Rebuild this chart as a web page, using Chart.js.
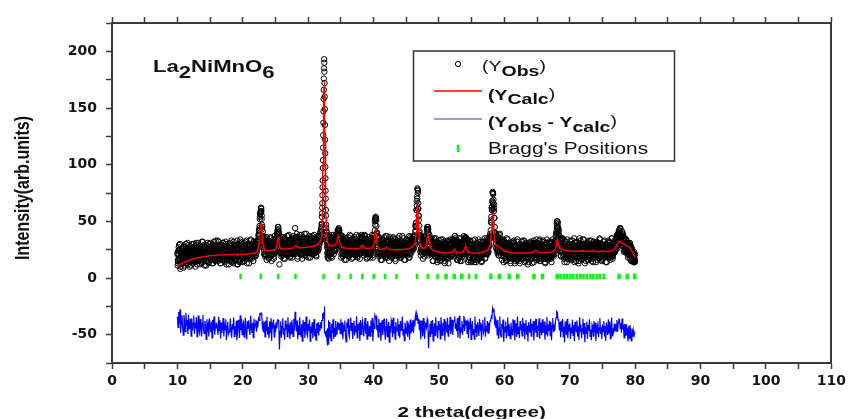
<!DOCTYPE html>
<html>
<head>
<meta charset="utf-8">
<title>La2NiMnO6 XRD refinement</title>
<script src="https://cdn.jsdelivr.net/npm/chart.js@4.4.1/dist/chart.umd.min.js"></script>
<style>
  html, body { margin: 0; padding: 0; background: #fff; overflow: hidden; }
  canvas { display: block; }
</style>
</head>
<body>
<canvas id="xrdChart" width="850" height="419"></canvas>
<script>
// observed / calculated intensities, 10.0 - 31.9 deg, step 0.1
const lowStart = 10, lowStep = 0.1
const obsLow = [
  22,13,27,17,30,10,21,26,16,9,
  27,22,13,30,19,24,12,29,17,20,
  26,11,27,16,23,30,14,24,19,29,
  12,22,31,17,15,28,21,13,25,32,
  18,16,27,23,11,29,20,24,14,30,
  23,18,27,13,29,20,32,16,22,26,
  26,22,16,32,20,29,13,27,18,23,
  31,15,25,21,30,12,24,28,17,19,
  22,31,19,14,26,21,32,15,24,17,
  29,12,19,30,24,14,34,21,31,17,
  26,28,15,25,32,19,13,29,23,30,
  21,17,34,25,19,28,15,32,24,28,
  32,22,32,28,38,40,52,58,62,55,
  37,35,25,33,19,33,24,36,20,27,
  17,32,22,35,15,29,26,34,19,30,
  24,34,31,42,45,40,12,26,34,19,
  29,36,22,27,17,34,26,31,20,37,
  24,28,18,33,23,35,29,21,37,27,
  44,36,27,36,19,31,23,38,28,21,
  32,17,36,26,34,20,29,39,24,22,
  33,27,37,18,31,25,35,21,28,38,
  23,30,20,35,27,37,26,36,32,41
]
// counts taken between those steps: +0.025, +0.05, +0.075 deg
const obsLowQ1 = [
  21,15,24,18,13,22,19,16,25,17,
  21,24,15,22,18,25,16,20,23,14,
  25,20,18,27,22,16,23,19,26,17,
  24,21,15,25,20,23,18,27,16,22,
  19,25,17,24,21,15,26,20,23,18,
  24,18,27,21,16,25,22,19,28,20,
  23,26,17,24,20,27,18,22,25,16,
  26,21,19,28,23,17,24,20,27,18,
  25,22,16,26,21,24,19,28,17,23,
  21,27,19,26,23,17,28,22,25,20,
  25,19,28,22,17,26,23,20,29,21,
  25,28,19,26,22,29,20,24,28,19,
  28,26,26,34,37,42,54,57,61,47,
  36,37,25,29,26,20,31,25,28,23,
  28,22,31,25,20,29,26,23,32,24,
  28,28,37,40,45,40,27,31,23,30,
  31,26,24,33,28,22,29,25,32,23,
  30,27,21,31,26,29,24,33,23,29,
  28,34,26,33,28,22,33,27,30,25,
  30,24,33,27,22,31,28,25,34,26,
  29,32,23,30,26,33,24,28,31,22,
  32,27,25,35,30,24,32,30,40,33
]
const obsLowMid = [
  11,24,29,16,8,21,26,13,19,28,
  16,11,26,23,13,31,18,24,10,28,
  22,16,30,20,13,27,23,10,31,17,
  24,15,28,21,12,26,18,32,14,22,
  29,11,25,19,27,16,31,13,23,20,
  31,16,19,29,13,26,22,15,33,18,
  18,33,15,22,26,13,29,19,16,31,
  21,24,14,32,17,28,20,26,12,30,
  23,15,33,19,27,13,22,29,16,25,
  19,33,12,25,29,15,32,22,18,27,
  14,31,21,26,17,33,23,19,30,13,
  29,21,33,17,25,23,32,19,28,31,
  30,24,32,30,39,44,56,59,59,43,
  34,34,21,36,21,34,16,31,25,33,
  18,30,36,20,27,23,32,17,37,24,
  34,29,39,42,43,31,22,35,22,36,
  20,31,17,35,26,32,23,37,21,28,
  38,24,19,33,29,18,34,25,31,22,
  34,24,39,17,33,27,36,24,21,38,
  28,20,34,25,39,23,30,19,35,26,
  18,32,29,22,36,24,37,21,31,33,
  25,35,19,31,24,36,29,37,34,43
]
const obsLowQ3 = [
  16,20,25,17,23,14,19,22,18,24,
  14,22,16,21,26,17,20,24,18,15,
  24,20,26,17,23,15,22,25,19,21,
  27,18,23,16,24,20,26,17,21,23,
  15,25,19,22,18,26,20,24,17,21,
  19,23,28,20,26,17,22,25,21,27,
  16,24,18,23,28,19,22,26,20,17,
  25,21,27,18,24,16,23,26,20,22,
  28,19,24,17,25,21,27,18,22,24,
  17,27,21,24,20,28,22,26,19,23,
  20,24,29,21,27,18,23,26,22,28,
  18,26,20,25,30,21,24,28,23,20,
  25,29,32,33,42,46,57,62,52,45,
  41,27,30,21,29,25,31,22,26,28,
  20,30,24,27,23,31,25,29,22,26,
  30,31,39,45,40,34,25,31,24,31,
  21,29,23,28,33,24,27,31,25,22,
  30,26,32,23,29,21,28,31,26,28,
  36,27,32,25,31,27,33,24,28,30,
  22,32,26,29,25,33,27,31,24,28,
  25,29,34,26,32,23,28,31,27,33,
  22,30,24,30,35,26,30,36,33,34
]
const calcLow = [
  10,10.5,11,11.4,11.8,12.2,12.6,12.9,13.2,13.5,
  13.8,14.1,14.4,14.6,14.9,15.1,15.3,15.5,15.7,15.9,
  16.1,16.3,16.5,16.6,16.8,17,17.1,17.3,17.4,17.6,
  17.7,17.8,18,18.1,18.2,18.3,18.4,18.5,18.6,18.7,
  18.8,18.9,19,19.1,19.2,19.3,19.3,19.4,19.5,19.5,
  19.6,19.7,19.7,19.8,19.8,19.9,19.9,20,20,20.1,
  20.1,20.2,20.2,20.2,20.3,20.3,20.3,20.4,20.4,20.4,
  20.4,20.5,20.5,20.5,20.5,20.6,20.6,20.6,20.6,20.6,
  20.7,20.7,20.7,20.7,20.7,20.7,20.8,20.8,20.8,20.8,
  20.8,20.8,20.9,20.9,20.9,20.9,20.9,21,21,21,
  21,21,21.1,21.1,21.1,21.1,21.2,21.2,21.2,21.3,
  21.3,21.3,21.4,21.4,21.5,21.6,21.7,21.9,22.1,22.4,
  22.8,23.4,24.3,25.6,27.8,31.5,37.5,44,47,42,
  34.5,29.5,27,25.6,24.9,24.5,24.3,24.2,24.1,24.1,
  24.1,24.1,24.2,24.2,24.3,24.4,24.5,24.7,24.9,25.2,
  25.8,27,29.5,33,36,33,29,27,26.2,25.8,
  25.6,25.5,25.5,25.5,25.5,25.6,25.6,25.6,25.7,25.7,
  25.8,25.8,25.9,26,26.1,26.2,26.4,26.6,26.9,27.3,
  27.8,28.2,28.1,27.6,27.1,26.8,26.7,26.6,26.6,26.6,
  26.7,26.7,26.8,26.8,26.9,27,27,27.1,27.2,27.3,
  27.4,27.5,27.6,27.7,27.8,27.9,28,28.1,28.2,28.3,
  28.5,28.7,28.9,29.2,29.6,30,30.6,31.4,32.5,34
]

// main reflection, 32.00 - 33.18 deg, step 0.02
const peakStart = 32, peakStep = 0.02
const obsPeak = [
  38,45,41,48,47,54,57,62,66,73,
  80,86,97,104,115,126,137,147,158,166,
  176,185,193,190,182,172,160,149,135,122,
  110,98,88,77,70,60,55,47,44,41,
  38,41,33,36,27,31,22,29,19,26,
  33,18,27,22,35,17,29,24,38,20
]
const calcPeak = [
  36,37.5,39,41,43,45.5,48.5,52,56,61,
  67,74,82,91,101,112,123,134,145,155,
  163,169,172,173,171,166,158,148,137,125,
  113,101,90,80,71,64,58,53,49,45.5,
  43,41,39,37.5,36,35,34,33.2,32.5,31.9,
  31.4,31,30.6,30.3,30,29.8,29.6,29.4,29.2,29.1
]

// 33.2 - 80.0 deg, step 0.1
const highStart = 33.2, highStep = 0.1
const obsHigh = [
  23,36,29,19,34,26,38,21,
  31,24,38,31,29,42,43,35,38,27,
  38,24,34,19,31,26,35,22,16,33,
  28,36,23,20,30,37,25,32,18,27,
  34,21,29,24,38,19,31,26,33,17,
  36,24,32,37,29,22,31,37,23,32,
  18,34,27,21,30,21,35,25,38,18,
  34,33,50,54,51,32,33,21,36,24,
  32,16,27,34,21,28,36,25,18,30,
  37,21,27,33,15,29,23,34,31,19,
  36,22,28,17,32,27,24,35,20,30,
  18,33,25,29,37,21,26,16,32,28,
  23,34,20,31,28,18,36,24,34,27,
  37,26,36,34,46,49,68,79,61,51,
  33,38,20,30,35,21,37,26,19,33,
  33,33,45,45,20,30,34,21,34,22,
  34,15,25,30,19,35,22,27,16,31,
  23,28,15,34,26,18,29,21,32,13,
  30,25,20,33,17,27,22,34,19,24,
  32,19,31,33,37,26,29,22,33,16,
  29,35,15,25,21,31,19,28,37,25,
  35,32,35,22,33,16,30,23,33,14,
  25,30,18,23,14,34,20,27,16,29,
  24,17,32,22,29,14,27,32,21,24,
  35,18,28,23,33,23,33,29,37,42,
  54,63,76,66,59,40,40,31,37,24,
  37,20,29,39,23,20,31,26,34,14,
  27,22,31,16,26,34,18,28,23,15,
  29,23,18,32,20,31,13,24,28,16,
  34,19,25,15,30,22,27,17,33,21,
  28,14,23,31,18,26,12,29,24,20,
  32,17,28,23,31,14,27,31,22,34,
  18,27,22,33,15,24,29,18,32,20,
  23,30,14,27,19,34,17,25,22,31,
  18,30,14,27,34,22,27,24,33,39,
  48,50,41,39,28,34,20,34,24,35,
  19,28,14,32,24,20,34,17,29,23,
  30,16,26,21,33,19,28,14,31,24,
  22,32,18,27,15,35,23,29,17,25,
  34,20,30,13,26,21,31,16,28,23,
  33,18,24,15,29,27,19,32,22,30,
  14,28,21,31,17,25,34,20,26,16,
  29,23,32,18,27,14,30,24,19,33,
  21,31,16,26,35,19,26,22,31,25,
  32,27,38,29,38,42,42,34,38,29,
  41,31,35,23,35,24,34,24,30,18,
  31,20,31,24,15,25,17,21,14,17,
  15
]
const obsHighQ1 = [
  30,24,33,27,22,31,28,25,
  34,26,30,34,32,40,41,42,32,32,
  28,31,22,29,25,32,23,27,30,21,
  31,26,24,33,28,22,29,25,32,23,
  30,27,21,31,26,29,24,33,22,28,
  26,33,27,36,31,23,33,26,29,24,
  29,23,32,26,21,30,27,24,33,25,
  32,33,47,53,46,40,29,32,22,30,
  27,30,21,28,24,31,22,26,29,20,
  32,26,24,32,27,21,28,24,31,22,
  29,26,20,30,25,28,23,32,21,27,
  24,30,22,29,26,20,31,25,28,23,
  28,22,32,26,21,30,27,25,34,27,
  33,29,37,34,42,46,64,78,66,55,
  41,37,25,30,25,32,23,27,30,22,
  31,33,43,43,32,38,28,33,25,28,
  29,24,22,30,25,19,26,22,29,20,
  27,24,18,28,23,26,21,30,19,25,
  22,28,20,27,24,18,29,23,26,21,
  26,21,32,29,26,33,27,22,30,22,
  25,28,19,26,22,29,21,26,30,23,
  36,33,28,33,26,19,26,22,29,20,
  26,23,17,27,22,25,20,29,18,24,
  21,27,19,27,24,18,29,23,27,22,
  27,21,31,25,21,31,29,28,39,36,
  49,60,75,69,65,45,39,30,36,25,
  30,33,23,30,25,32,22,26,28,19,
  28,23,21,30,25,19,26,22,29,20,
  26,23,17,27,22,25,20,29,18,24,
  21,27,19,26,23,17,28,22,25,20,
  25,19,28,22,17,26,23,20,29,21,
  24,27,19,26,22,29,21,26,29,20,
  29,23,21,29,24,18,25,21,28,19,
  26,23,17,27,22,25,20,29,18,24,
  21,28,20,27,25,19,31,27,33,33,
  44,47,44,42,32,33,24,31,23,28,
  27,21,30,23,18,27,24,21,30,22,
  25,28,19,26,22,29,20,24,27,18,
  28,23,21,30,25,19,26,22,29,20,
  27,24,18,28,23,26,21,30,19,25,
  22,28,20,27,24,18,29,23,26,21,
  26,20,29,23,18,27,24,21,30,22,
  25,28,19,26,22,29,20,24,27,18,
  28,23,21,30,26,20,27,24,31,23,
  31,30,26,38,35,40,36,44,32,36,
  32,37,28,34,30,23,33,26,28,22,
  27,20,28,21,15,23,19,15,23,14
]
const obsHighMid = [
  22,37,26,33,18,31,36,24,
  35,24,34,29,39,39,41,42,29,35,
  18,29,37,21,27,16,32,35,24,31,
  25,33,19,38,23,28,17,34,30,22,
  36,20,31,26,33,18,29,37,21,27,
  24,38,35,26,35,20,38,25,34,17,
  29,22,36,24,18,33,26,31,20,37,
  35,38,52,53,39,37,23,36,19,31,
  23,33,16,27,34,20,30,25,37,19,
  33,18,29,22,36,24,31,18,26,35,
  21,27,34,15,30,23,33,19,28,37,
  25,18,32,29,20,35,22,31,16,27,
  34,23,29,18,37,25,21,32,35,24,
  34,26,37,35,48,60,72,75,61,40,
  38,23,37,23,33,17,28,36,25,34,
  36,43,42,43,24,36,22,35,22,32,
  15,28,35,19,25,21,32,14,30,23,
  33,18,26,16,29,34,21,27,15,31,
  22,17,32,28,13,30,25,19,33,20,
  34,23,33,30,37,22,29,16,31,24,
  18,32,22,35,15,27,21,33,21,34,
  32,35,25,33,14,29,33,18,25,15,
  29,20,33,16,25,22,14,31,27,18,
  34,17,26,22,32,15,29,21,25,32,
  17,29,21,35,24,34,28,36,35,49,
  62,68,75,61,53,35,38,26,35,22,
  35,20,38,24,28,34,16,29,19,33,
  22,29,15,35,19,24,31,17,27,13,
  31,19,25,17,33,22,28,15,20,32,
  16,26,29,13,24,19,32,25,17,27,
  33,21,15,28,18,30,23,14,26,31,
  19,30,13,26,33,22,18,30,25,16,
  31,22,26,17,34,15,24,29,19,33,
  18,25,13,31,22,28,16,26,32,20,
  23,18,32,20,27,32,21,26,37,41,
  50,45,36,38,24,35,19,35,23,26,
  34,17,28,22,32,14,26,30,19,23,
  18,33,21,29,16,25,35,20,27,15,
  31,19,26,13,30,23,33,17,28,24,
  21,34,18,27,15,29,22,32,16,25,
  30,20,33,17,26,14,28,23,31,19,
  27,32,16,24,19,35,21,30,15,26,
  17,28,23,33,20,30,14,26,29,22,
  32,18,27,22,35,17,28,22,33,27,
  25,36,30,39,35,41,36,43,32,38,
  29,39,25,35,27,34,22,30,22,27,
  30,18,27,19,27,18,22,14,19,15
]
const obsHighQ3 = [
  25,29,34,26,32,23,28,31,
  26,32,29,34,38,39,44,36,37,28,
  21,29,23,28,33,24,27,31,25,22,
  30,26,32,23,29,21,28,31,25,27,
  33,24,29,22,30,26,32,23,27,29,
  22,34,30,33,27,33,26,30,23,27,
  24,28,33,25,31,22,27,30,26,32,
  31,42,51,53,40,35,27,32,23,29,
  20,28,22,27,32,23,26,30,24,21,
  31,26,32,22,28,20,27,30,24,26,
  32,23,28,21,29,25,31,22,26,28,
  20,30,24,27,23,31,25,29,22,26,
  23,27,33,25,31,22,27,31,27,34,
  27,34,32,41,45,60,70,77,55,46,
  29,33,25,29,33,24,27,31,26,24,
  32,41,45,40,23,35,25,31,23,27,
  28,24,30,20,26,18,25,28,22,24,
  30,21,26,19,27,23,29,20,24,26,
  18,28,22,25,21,29,23,27,20,24,
  21,27,34,29,35,23,26,27,23,29,
  18,26,20,25,30,22,25,31,26,25,
  36,31,34,22,26,18,25,28,22,23,
  29,20,25,18,26,22,28,19,23,25,
  17,27,21,25,21,29,23,28,21,25,
  22,26,32,24,31,23,30,36,36,51,
  60,67,74,62,53,36,36,27,34,26,
  23,30,24,28,33,23,26,29,23,19,
  27,23,29,20,26,18,25,28,22,24,
  29,20,25,18,26,22,28,19,23,25,
  17,27,21,24,20,28,22,26,19,23,
  20,24,29,21,27,18,23,26,22,28,
  17,26,20,25,30,22,25,30,24,20,
  27,23,28,19,25,17,24,27,21,23,
  29,20,25,18,26,22,28,19,23,25,
  17,28,22,25,22,30,25,32,29,39,
  45,49,38,37,29,30,24,30,24,27,
  21,25,30,22,28,19,24,27,23,29,
  18,26,20,25,30,21,24,28,22,19,
  27,23,29,20,26,18,25,28,22,24,
  30,21,26,19,27,23,29,20,24,26,
  18,28,22,25,21,29,23,27,20,24,
  21,25,30,22,28,19,24,27,23,29,
  18,26,20,25,30,21,24,28,22,19,
  27,23,29,20,27,19,26,30,24,27,
  34,28,35,30,40,38,44,34,36,37,
  28,37,30,32,27,34,27,30,22,25,
  22,25,29,20,25,15,19,21,16,21
]
const calcHigh = [
  29,28.8,28.6,28.5,28.4,28.4,28.5,28.7,
  29,29.4,30,31,33,35.5,37,35,32,29.8,
  28.5,27.8,27.3,27,26.8,26.6,26.5,26.4,26.3,26.2,
  26.1,26,26,25.9,25.9,25.8,25.8,25.8,25.7,25.7,
  25.7,25.7,25.7,25.7,25.8,25.8,25.9,26,26.2,26.5,
  27,27.8,28.6,29,28.4,27.5,26.8,26.4,26.2,26.1,
  26,26,26,26.1,26.2,26.3,26.5,26.8,27.2,27.8,
  29,31.5,37,43,39,32,28.5,27,26.2,25.8,
  25.5,25.4,25.3,25.3,25.4,25.5,25.7,26,26.4,26.8,
  27,26.7,26.2,25.8,25.5,25.3,25.2,25.1,25,25,
  25,24.9,24.9,24.9,24.9,24.9,24.9,25,25,25,
  25,25,25,25.1,25.1,25.2,25.2,25.3,25.4,25.5,
  25.6,25.7,25.8,26,26.2,26.4,26.6,26.9,27.2,27.6,
  28,28.6,29.4,30.5,33,40,53,66,55,41,
  33,29.5,28,27.3,26.8,26.5,26.4,26.4,26.5,26.8,
  28,31,35.5,38.5,36,31.5,28.5,27,26,25.4,
  25,24.6,24.3,24,23.8,23.6,23.4,23.3,23.1,23,
  22.9,22.8,22.7,22.6,22.5,22.5,22.4,22.4,22.3,22.3,
  22.3,22.2,22.2,22.2,22.2,22.2,22.3,22.3,22.4,22.6,
  22.8,23.2,23.9,24.8,25,24.3,23.4,22.9,22.6,22.5,
  22.4,22.4,22.4,22.5,22.6,22.8,23.1,23.6,24.4,25.8,
  27.5,28,26.5,24.8,23.7,23.1,22.7,22.5,22.3,22.2,
  22.1,22,22,22,22,22,22,22,22.1,22.1,
  22.2,22.2,22.3,22.4,22.5,22.6,22.7,22.9,23.1,23.3,
  23.5,23.8,24.1,24.5,25,25.6,26.5,27.5,29,33,
  42,52,57,50,40,33,30,29,28.6,28.3,
  28,27.7,27.3,26.9,26.5,26,25.5,25,24.6,24.2,
  23.9,23.6,23.4,23.2,23,22.9,22.8,22.7,22.6,22.5,
  22.4,22.4,22.3,22.3,22.2,22.2,22.2,22.1,22.1,22.1,
  22.1,22,22,22,22,22,22,22,22,22,
  22,22,22,22,22,22.1,22.1,22.1,22.2,22.2,
  22.3,22.4,22.5,22.7,22.9,23.2,23.6,24,24.3,24.1,
  23.6,23.1,22.8,22.6,22.5,22.4,22.4,22.4,22.4,22.4,
  22.4,22.4,22.4,22.4,22.4,22.5,22.5,22.6,22.6,22.7,
  22.8,22.9,23,23.2,23.4,23.7,24.1,24.8,26,28,
  31.5,34,32,29.5,27.8,26.8,26.2,25.8,25.5,25.2,
  25,24.8,24.6,24.5,24.4,24.3,24.2,24.1,24,24,
  23.9,23.9,23.8,23.8,23.8,23.7,23.7,23.7,23.6,23.6,
  23.6,23.6,23.6,23.6,23.6,23.7,23.8,24,24.1,24.1,
  24,23.9,23.8,23.7,23.6,23.6,23.5,23.5,23.5,23.5,
  23.5,23.6,23.7,23.9,24.2,24.4,24.3,24,23.8,23.6,
  23.5,23.4,23.4,23.3,23.3,23.3,23.3,23.4,23.5,23.7,
  24,24.2,24,23.7,23.5,23.4,23.3,23.3,23.3,23.4,
  23.4,23.5,23.6,23.7,23.9,24.1,24.4,24.8,25.3,26,
  26.8,27.8,29,30.5,31.6,32.3,32.6,32.4,31.9,31.3,
  30.8,30.4,30.1,29.8,29.5,29.2,28.9,28.6,28.3,28,
  27.6,27.1,26.4,25.6,24.6,23.6,22.5,21.4,20.3,19.2,
  18
]

// difference curve is shifted down under the pattern
const diffOffset = -46

// Bragg reflection positions (2 theta)
const braggPos = [
  19.66, 22.76, 25.4, 28.05, 32.36, 34.65, 36.48, 38.26, 40.03, 41.76, 43.49,
  46.64, 48.27, 49.79, 51.0, 51.15, 52.25, 52.4, 53.4, 53.55, 54.6, 55.63,
  57.85, 58.0, 59.15, 59.3, 60.65, 60.8, 61.95, 62.1, 64.45, 64.6, 65.75, 65.9,
  68.0, 68.15, 68.6, 69.1, 69.6, 70.1, 70.55, 71.1, 71.6, 72.1, 72.6, 73.15,
  73.6, 74.15, 74.6, 75.2, 77.45, 77.6, 78.7, 78.85, 79.85, 80.0
]
const braggLevel = 1.3

const xMin = 0, xMax = 110, xStep = 5
const yMin = -75, yMax = 225, yStep = 25

// put the sampled pieces together on one 2theta axis
const segments = [
  [obsLow, calcLow, lowStart, lowStep],
  [obsPeak, calcPeak, peakStart, peakStep],
  [obsHigh, calcHigh, highStart, highStep]
]
const r3 = v => Math.round(v * 1000) / 1000
let obsPts = [], calcPts = [], diffPts = []
segments.forEach(([obs, calc, start, step]) => {
  for (let i = 0; i < obs.length; i++) {
    const tt = r3(start + i * step)
    obsPts.push({x: tt, y: obs[i]})
    calcPts.push({x: tt, y: calc[i]})
    diffPts.push({x: tt, y: obs[i] - calc[i] + diffOffset})
  }
})
// extra observed counts sitting between the 0.1 deg steps
const between = [
  [obsLowQ1, lowStart + 0.025], [obsLowMid, lowStart + 0.05], [obsLowQ3, lowStart + 0.075],
  [obsHighQ1, highStart + 0.025], [obsHighMid, highStart + 0.05], [obsHighQ3, highStart + 0.075]
]
between.forEach(([arr, start]) => {
  arr.forEach((v, i) => obsPts.push({x: r3(start + i * 0.1), y: v}))
})
const braggPts = braggPos.map(p => ({x: p, y: braggLevel}))

const SANS = '"Liberation Sans", Arial, sans-serif'
const AXIS_COLOR = '#3a3a3a'

// text drawn a bit wide, the way the figure was exported
function drawRun(ctx, x, y, parts, sx) {
  parts.forEach(([txt, font, dy]) => {
    ctx.font = font
    ctx.save()
    ctx.translate(x, y + dy)
    ctx.scale(sx, 1)
    ctx.fillText(txt, 0, 0)
    ctx.restore()
    x += ctx.measureText(txt).width * sx
  })
  return x
}

const annotatePlugin = {
  id: 'xrdAnnotate',
  afterDraw(chart) {
    const ctx = chart.ctx
    const area = chart.chartArea
    ctx.save()
    ctx.fillStyle = '#111'
    ctx.textBaseline = 'alphabetic'
    ctx.textAlign = 'left'

    // compound name
    const bold17 = 'bold 17px ' + SANS
    drawRun(ctx, 153, 72, [
      ['La', bold17, 0], ['2', bold17, 6], ['NiMnO', bold17, 0], ['6', bold17, 6]
    ], 1.3)

    // legend box
    ctx.strokeStyle = '#333'
    ctx.lineWidth = 1.5
    ctx.strokeRect(413.5, 51, 261, 110)

    ctx.beginPath()
    ctx.arc(458, 64, 2.6, 0, Math.PI * 2)
    ctx.strokeStyle = '#000'
    ctx.lineWidth = 1
    ctx.stroke()

    ctx.beginPath()
    ctx.moveTo(434, 91); ctx.lineTo(482, 91)
    ctx.strokeStyle = '#ff0000'
    ctx.lineWidth = 1.3
    ctx.stroke()

    ctx.beginPath()
    ctx.moveTo(434, 119); ctx.lineTo(482, 119)
    ctx.strokeStyle = '#3030ff'
    ctx.lineWidth = 1
    ctx.stroke()

    ctx.beginPath()
    ctx.moveTo(458, 145); ctx.lineTo(458, 152)
    ctx.strokeStyle = '#00ff00'
    ctx.lineWidth = 2.5
    ctx.stroke()

    const reg15 = '15px ' + SANS, bold15 = 'bold 15px ' + SANS
    drawRun(ctx, 482, 71, [
      ['(', reg15, 0], ['Y', reg15, 0], ['Obs', bold15, 4.5], [')', reg15, 0]
    ], 1.3)
    drawRun(ctx, 488, 100, [
      ['(Y', bold15, 0], ['Calc', bold15, 4], [')', reg15, -1]
    ], 1.3)
    drawRun(ctx, 488, 127, [
      ['(Y', bold15, 0], ['obs', bold15, 4.5], [' - Y', bold15, 0], ['calc', bold15, 4.5], [')', reg15, -1]
    ], 1.3)
    drawRun(ctx, 488, 154, [["Bragg's Positions", '16px ' + SANS, 0]], 1.3)

    // axis titles
    ctx.font = 'bold 15px ' + SANS
    const xt = '2 theta(degree)'
    const xw = ctx.measureText(xt).width * 1.38
    drawRun(ctx, (area.left + area.right) / 2 - xw / 2, 417, [[xt, 'bold 15px ' + SANS, 0]], 1.38)

    ctx.save()
    ctx.translate(29, 188)
    ctx.rotate(-Math.PI / 2)
    ctx.scale(1, 1.25)
    ctx.font = 'bold 16px ' + SANS
    ctx.textAlign = 'center'
    ctx.fillText('Intensity(arb.units)', 0, 0)
    ctx.restore()

    ctx.restore()
  }
}

const tickFont = {family: '"DejaVu Sans", sans-serif', size: 14, weight: 'bold'}

var chrt = document.getElementById('xrdChart').getContext('2d')
const chartConfig = {
  type: 'scatter',
  data: {
    datasets: [
      {
        label: 'Ycalc',
        data: calcPts,
        showLine: true,
        borderColor: '#ff0000',
        borderWidth: 1.4,
        pointRadius: 0,
        order: 0
      },
      {
        label: 'Yobs',
        data: obsPts,
        pointStyle: 'circle',
        pointRadius: 2.7,
        borderWidth: 1,
        borderColor: '#000',
        backgroundColor: 'rgba(0,0,0,0)',
        order: 1
      },
      {
        label: 'Yobs - Ycalc',
        data: diffPts,
        showLine: true,
        borderColor: '#0000ff',
        borderWidth: 1.2,
        pointRadius: 0,
        order: 2
      },
      {
        label: "Bragg's Positions",
        data: braggPts,
        pointStyle: 'line',
        rotation: 90,
        pointRadius: 2.8,
        borderWidth: 2.5,
        borderColor: '#00ff00',
        order: 3
      }
    ]
  },
  options: {
    responsive: false,
    devicePixelRatio: 1,
    animation: false,
    layout: {padding: 0},
    plugins: {legend: {display: false}, tooltip: {enabled: false}},
    scales: {
      x: {
        type: 'linear', position: 'bottom', min: xMin, max: xMax,
        ticks: {
          stepSize: xStep, autoSkip: false, maxRotation: 0, padding: 4,
          color: '#161616', font: tickFont,
          callback: v => (v % 10 === 0 ? v : '')
        },
        grid: {drawOnChartArea: false, tickLength: 6, tickColor: AXIS_COLOR, tickWidth: 1.5},
        border: {color: AXIS_COLOR, width: 2},
        afterFit: s => { s.height = 56 }
      },
      xTop: {
        type: 'linear', position: 'top', min: xMin, max: xMax,
        ticks: {stepSize: xStep, autoSkip: false, display: false},
        grid: {drawOnChartArea: false, tickLength: 6, tickColor: AXIS_COLOR, tickWidth: 1.5},
        border: {color: AXIS_COLOR, width: 2},
        afterFit: s => { s.height = 23 }
      },
      y: {
        type: 'linear', position: 'left', min: yMin, max: yMax,
        ticks: {
          stepSize: yStep, autoSkip: false, padding: 9,
          color: '#161616', font: tickFont,
          callback: v => (v % 50 === 0 ? v : '')
        },
        grid: {drawOnChartArea: false, tickLength: 6, tickColor: AXIS_COLOR, tickWidth: 1.5},
        border: {color: AXIS_COLOR, width: 2},
        afterFit: s => { s.width = 112 }
      },
      yRight: {
        type: 'linear', position: 'right', min: yMin, max: yMax,
        ticks: {display: false},
        grid: {drawOnChartArea: false, drawTicks: false},
        border: {color: AXIS_COLOR, width: 2},
        afterFit: s => { s.width = 17 }
      }
    }
  },
  plugins: [annotatePlugin]
}
var xrdChart = new Chart(chrt, chartConfig)
</script>
</body>
</html>
